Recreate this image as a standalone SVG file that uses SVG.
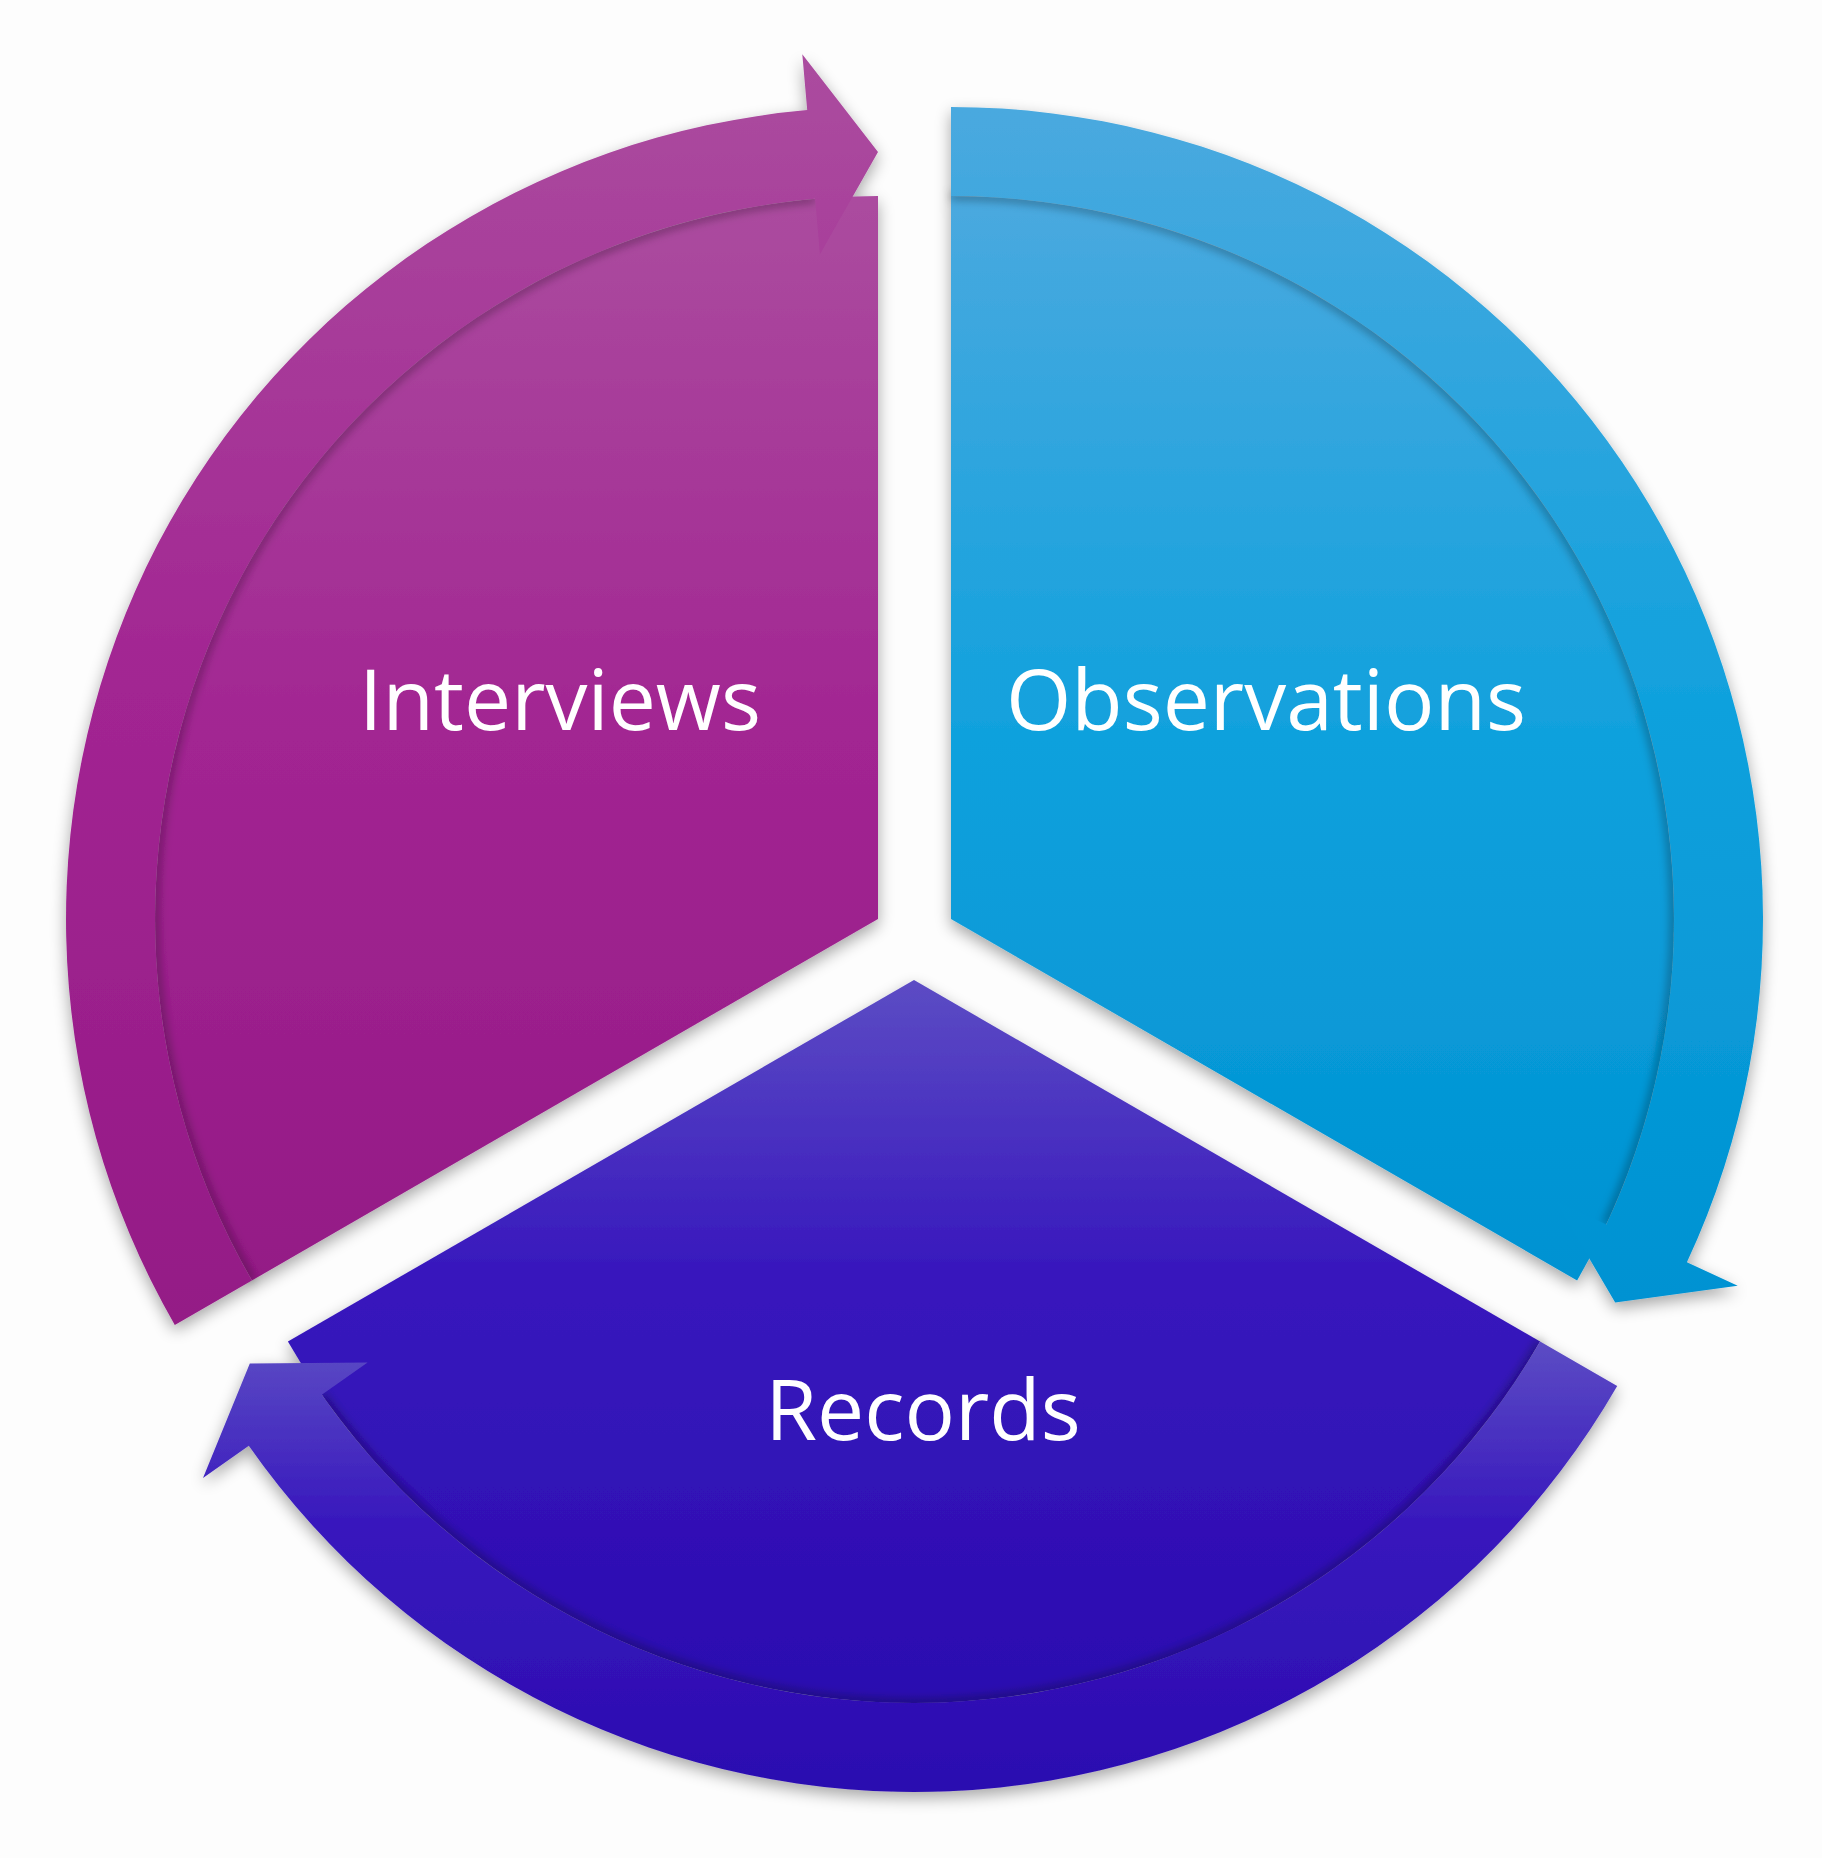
<svg xmlns="http://www.w3.org/2000/svg" width="1822" height="1858" viewBox="0 0 1822 1858">
<defs>
<linearGradient id="gI" x1="0" y1="0" x2="0" y2="1"><stop offset="0" stop-color="#ab4c9f"/><stop offset="0.5" stop-color="#a22592"/><stop offset="1" stop-color="#941a86"/></linearGradient>
<linearGradient id="gO" x1="0" y1="0" x2="0" y2="1"><stop offset="0" stop-color="#4aa9df"/><stop offset="0.5" stop-color="#10a1dd"/><stop offset="1" stop-color="#0092d2"/></linearGradient>
<linearGradient id="gR" x1="0" y1="0" x2="0" y2="1"><stop offset="0" stop-color="#5c4cc4"/><stop offset="0.4" stop-color="#3818bd"/><stop offset="1" stop-color="#2b0cb0"/></linearGradient>
<filter id="sh" x="-10%" y="-10%" width="120%" height="120%"><feGaussianBlur in="SourceAlpha" stdDeviation="8"/><feOffset dx="0" dy="6"/><feComponentTransfer><feFuncA type="linear" slope="0.35"/></feComponentTransfer><feMerge><feMergeNode/><feMergeNode in="SourceGraphic"/></feMerge></filter>
<filter id="bl"><feGaussianBlur stdDeviation="5"/></filter>
</defs>
<style>
.lbl{font-family:"Open Sans","Liberation Sans",sans-serif;font-size:84px;font-weight:500;fill:#ffffff;text-anchor:middle}
.edge{fill:none;stroke:#000;stroke-opacity:0.4;stroke-width:6;filter:url(#bl)}
</style>
<rect width="1822" height="1858" fill="#fdfdfd"/>
<g id="interviews" transform="translate(878,919)" filter="url(#sh)">
<path fill="url(#gI)" d="M0,0 L-626.1,361.5 A723,723 0 0 1 0,-723 Z"/>
<path class="edge" d="M-626.1,361.5 A723,723 0 0 1 -63,-720.2"/>
<path fill="url(#gI)" d="M-703.2,406 A812,812 0 0 1 -70.8,-808.9 L-75.7,-864.7 L0,-767 L-58.1,-664.5 L-63,-720.2 A723,723 0 0 0 -626.1,361.5 Z"/>
</g>
<g id="observations" transform="translate(951,919)" filter="url(#sh)">
<path fill="url(#gO)" d="M0,0 L0,-723 A723,723 0 0 1 626.1,361.5 Z"/>
<path class="edge" d="M0,-723 A723,723 0 0 1 655.3,305.6"/>
<path fill="url(#gO)" d="M0,-812 A812,812 0 0 1 735.9,343.2 L786.7,366.8 L664.2,383.5 L604.5,281.9 L655.3,305.6 A723,723 0 0 0 0,-723 Z"/>
</g>
<g id="records" transform="translate(914,980)" filter="url(#sh)">
<path fill="url(#gR)" d="M0,0 L626.1,361.5 A723,723 0 0 1 -626.1,361.5 Z"/>
<path class="edge" d="M626.1,361.5 A723,723 0 0 1 -592.2,414.7"/>
<path fill="url(#gR)" d="M703.2,406 A812,812 0 0 1 -665.2,465.7 L-711,497.9 L-664.2,383.5 L-546.4,382.6 L-592.2,414.7 A723,723 0 0 0 626.1,361.5 Z"/>
</g>
<g id="connectors"></g>
<g id="labels">
<text class="lbl" x="560" y="730">Interviews</text>
<text class="lbl" x="1266" y="730">Observations</text>
<text class="lbl" x="923" y="1440">Records</text>
</g>
</svg>
